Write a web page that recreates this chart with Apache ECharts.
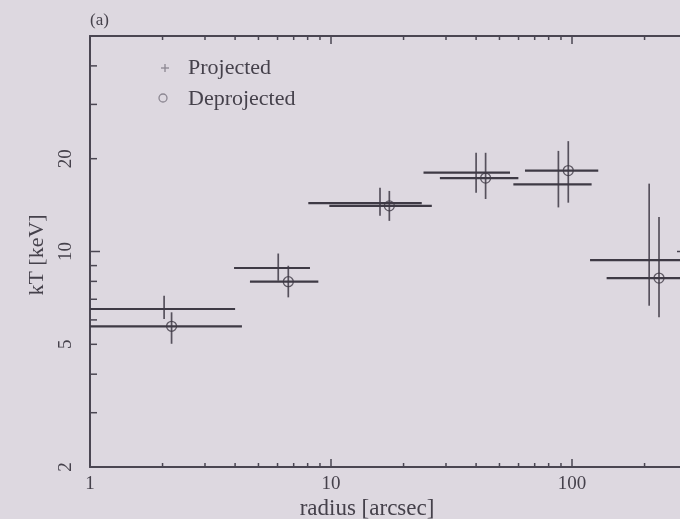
<!DOCTYPE html>
<html>
<head>
<meta charset="utf-8">
<script src="https://cdn.jsdelivr.net/npm/echarts@6/dist/echarts.min.js"></script>
<style>html,body{margin:0;padding:0;background:#ddd8e0;overflow:hidden;width:680px;height:519px;}#c{width:700px;height:519px;}</style>
</head>
<body>
<div id="c"></div>
<script>
// ---- data ----
// Projected temperature profile
const projR     = [2.03, 6.04, 15.97, 40.0, 87.8, 209];
const projRmin  = [1.0, 3.96, 8.05, 24.2, 57.1, 118.8];
const projRmax  = [4.0, 8.18, 23.8, 55.3, 120.6, 330];
const projKT    = [6.51, 8.84, 14.35, 18.02, 16.5, 9.38];
const projKTlo  = [6.04, 8.04, 13.05, 15.5, 13.9, 6.67];
const projKThi  = [7.19, 9.85, 16.1, 20.9, 21.2, 16.6];
// Deprojected temperature profile
const deprR     = [2.18, 6.65, 17.46, 43.8, 96.5, 229.6];
const deprRmin  = [1.0, 4.61, 9.84, 28.3, 63.8, 139.2];
const deprRmax  = [4.27, 8.86, 26.2, 59.9, 128.5, 360];
const deprKT    = [5.72, 7.98, 14.06, 17.3, 18.3, 8.2];
const deprKTlo  = [5.02, 7.10, 12.57, 14.8, 14.4, 6.12];
const deprKThi  = [6.35, 8.99, 15.72, 20.9, 22.8, 12.95];
// axes
const xMin = 1, xMax = 300, yMin = 2, yMax = 50;
const xMajorTicks = [1, 10, 100];
const xMinorTicks = [2,3,4,5,6,7,8,9,20,30,40,50,60,70,80,90,200,300];
const xTickLabels = ['1', '10', '100'];
const yMajorTicks = [10];
const yMinorTicks = [3,4,5,6,7,8,9,20,30,40];
const yLabelValues = [2, 5, 10, 20];
const yTickLabels = ['2', '5', '10', '20'];

const lineC = '#3e3a45';
const axisC = '#4a4652';
const textC = '#45414b';
const legC = '#8c8792';
const serif = '"Liberation Serif", "Times New Roman", serif';

function rows(r, rmin, rmax, kt, lo, hi) {
  return r.map((v, i) => [rmin[i], rmax[i], v, kt[i], lo[i], hi[i]]);
}

function errRender(circle) {
  return function (params, api) {
    const rmin = api.value(0), rmax = api.value(1), r = api.value(2);
    const t = api.value(3), lo = api.value(4), hi = api.value(5);
    const a = api.coord([rmin, t]), b = api.coord([rmax, t]);
    const c = api.coord([r, lo]), d = api.coord([r, hi]);
    const children = [
      {type: 'line', shape: {x1: a[0], y1: a[1], x2: b[0], y2: b[1]}, style: {stroke: lineC, lineWidth: 2.2}},
      {type: 'line', shape: {x1: c[0], y1: c[1], x2: d[0], y2: d[1]}, style: {stroke: lineC, lineWidth: 1.7, opacity: 0.85}}
    ];
    if (circle) {
      const p = api.coord([r, t]);
      children.push({type: 'circle', shape: {cx: p[0], cy: p[1], r: 5}, style: {fill: 'none', stroke: lineC, lineWidth: 1.3, opacity: 0.8}});
    }
    return {type: 'group', children};
  };
}

const chart = echarts.init(document.getElementById('c'), null, {renderer: 'canvas'});

const xTickData = xMajorTicks.map(v => [v, yMin, 8]).concat(xMinorTicks.map(v => [v, yMin, 4]));
const yTickData = yMajorTicks.map(v => [xMin, v, 10]).concat(yMinorTicks.map(v => [xMin, v, 7]));
const xLabData = xMajorTicks.map(v => [v, yMin]);
const yLabData = yLabelValues.map(v => [xMin, v]);

chart.setOption({
  backgroundColor: '#ddd8e0',
  animation: false,
  grid: {left: 90, right: 13, top: 36, bottom: 52, show: false},
  xAxis: [
    {type: 'log', min: xMin, max: xMax, position: 'bottom',
     axisLine: {show: true, lineStyle: {color: axisC, width: 2}},
     axisTick: {show: false}, axisLabel: {show: false}, splitLine: {show: false}},
    {type: 'log', min: xMin, max: xMax, position: 'top',
     axisLine: {show: true, lineStyle: {color: axisC, width: 2}},
     axisTick: {show: false}, axisLabel: {show: false}, splitLine: {show: false}}
  ],
  yAxis: {type: 'log', min: yMin, max: yMax,
    axisLine: {show: true, lineStyle: {color: axisC, width: 2}},
    axisTick: {show: false}, axisLabel: {show: false}, splitLine: {show: false}},
  series: [
    {name: 'Projected', type: 'custom', clip: true, renderItem: errRender(false),
     encode: {x: [0, 1, 2], y: [3, 4, 5]}, data: rows(projR, projRmin, projRmax, projKT, projKTlo, projKThi)},
    {name: 'Deprojected', type: 'custom', clip: true, renderItem: errRender(true),
     encode: {x: [0, 1, 2], y: [3, 4, 5]}, data: rows(deprR, deprRmin, deprRmax, deprKT, deprKTlo, deprKThi)},
    // x ticks (bottom & top, inward)
    {type: 'custom', silent: true, encode: {x: 0, y: 1}, data: xTickData,
     renderItem: function (params, api) {
       const v = api.value(0), len = api.value(2);
       const pb = api.coord([v, yMin]), pt = api.coord([v, yMax]);
       return {type: 'group', children: [
         {type: 'line', shape: {x1: pb[0], y1: pb[1], x2: pb[0], y2: pb[1] - len}, style: {stroke: axisC, lineWidth: 1.5}},
         {type: 'line', shape: {x1: pt[0], y1: pt[1], x2: pt[0], y2: pt[1] + len}, style: {stroke: axisC, lineWidth: 1.5}}
       ]};
     }},
    // y ticks (left & right, inward)
    {type: 'custom', silent: true, encode: {x: 0, y: 1}, data: yTickData,
     renderItem: function (params, api) {
       const v = api.value(1), len = api.value(2);
       const pl = api.coord([xMin, v]), pr = api.coord([xMax, v]);
       return {type: 'group', children: [
         {type: 'line', shape: {x1: pl[0], y1: pl[1], x2: pl[0] + len, y2: pl[1]}, style: {stroke: axisC, lineWidth: 1.5}},
         {type: 'line', shape: {x1: pr[0], y1: pr[1], x2: pr[0] - len, y2: pr[1]}, style: {stroke: axisC, lineWidth: 1.5}}
       ]};
     }},
    // x tick labels
    {type: 'custom', silent: true, encode: {x: 0, y: 1}, data: xLabData,
     renderItem: function (params, api) {
       const p = api.coord([api.value(0), yMin]);
       return {type: 'text', x: p[0], y: p[1] + 17, style: {text: xTickLabels[params.dataIndex], fill: textC,
         font: '19px ' + serif, align: 'center', verticalAlign: 'middle'}};
     }},
    // y tick labels (rotated)
    {type: 'custom', silent: true, encode: {x: 0, y: 1}, data: yLabData,
     renderItem: function (params, api) {
       const p = api.coord([xMin, api.value(1)]);
       return {type: 'text', x: p[0] - 24, y: p[1], rotation: Math.PI / 2, style: {text: yTickLabels[params.dataIndex], fill: textC,
         font: '19px ' + serif, align: 'center', verticalAlign: 'middle'}};
     }}
  ],
  graphic: [
    {type: 'text', left: 90, top: 12, style: {text: '(a)', fill: textC, font: '17px ' + serif}},
    {type: 'text', x: 367, y: 509, style: {text: 'radius [arcsec]', fill: textC, font: '23px ' + serif, align: 'center', verticalAlign: 'middle'}},
    {type: 'text', x: 37, y: 255, rotation: Math.PI / 2, style: {text: 'kT [keV]', fill: textC, font: '22px ' + serif, align: 'center', verticalAlign: 'middle'}},
    // legend
    {type: 'group', children: [
      {type: 'line', shape: {x1: 161, y1: 68, x2: 169, y2: 68}, style: {stroke: legC, lineWidth: 1.3}},
      {type: 'line', shape: {x1: 165, y1: 64, x2: 165, y2: 72}, style: {stroke: legC, lineWidth: 1.3}},
      {type: 'text', x: 188, y: 68, style: {text: 'Projected', fill: textC, font: '22px ' + serif, verticalAlign: 'middle'}},
      {type: 'circle', shape: {cx: 163, cy: 98, r: 4}, style: {fill: 'none', stroke: legC, lineWidth: 1.3}},
      {type: 'text', x: 188, y: 99, style: {text: 'Deprojected', fill: textC, font: '22px ' + serif, verticalAlign: 'middle'}}
    ]}
  ]
});
</script>
</body>
</html>
